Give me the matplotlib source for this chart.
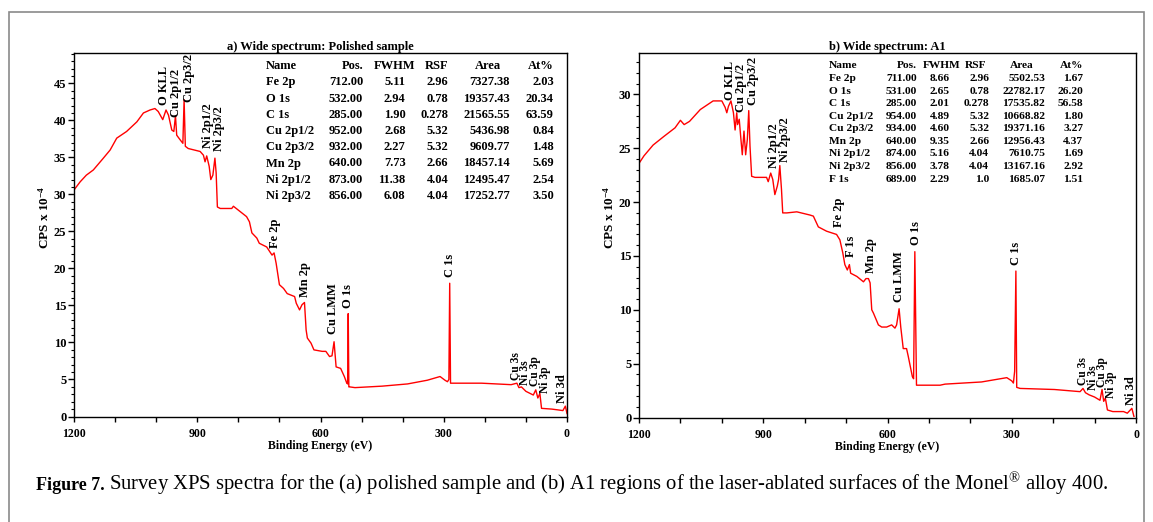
import matplotlib
matplotlib.use("Agg")
import matplotlib.pyplot as plt
from matplotlib.ticker import MultipleLocator
from matplotlib.patches import Rectangle

plt.rcParams["font.family"] = ["Liberation Serif", "DejaVu Serif"]
plt.rcParams["font.weight"] = "bold"
plt.rcParams["mathtext.fontset"] = "custom"
plt.rcParams["mathtext.rm"] = "Liberation Serif:weight=normal"
plt.rcParams["mathtext.bf"] = "Liberation Serif:weight=bold"
plt.rcParams["mathtext.default"] = "rm"

# ---- spectrum (a): polished sample ----
be_a = [1200, 1185, 1170, 1153, 1130, 1112, 1096, 1072, 1047, 1031, 1015, 1003,
        995, 984, 976, 970, 962, 957, 953, 950, 942, 935, 932, 929, 922, 893,
        885, 881, 877, 871, 867, 862, 857, 854, 851, 844, 816, 812, 796, 780,
        773, 767, 755, 749, 731, 718, 713, 708, 700, 690, 681, 663, 659, 651,
        645, 639, 635, 632, 623, 616, 596, 587, 578, 572, 567, 562, 551, 542,
        536, 534, 532.5, 531, 529, 516, 450, 388, 340, 309, 297, 291, 287.5,
        285.5, 283.5, 280, 208, 136, 122, 117, 111, 100, 82, 76, 71, 66, 62,
        37, 23, 10, 4, 0]
cps_a = [30.6, 31.7, 32.6, 33.3, 34.8, 36.0, 37.6, 38.5, 39.8, 41.0, 41.4, 41.6,
         41.2, 40.1, 41.4, 40.7, 38.7, 38.5, 40.6, 38.0, 37.4, 36.9, 42.8, 36.5,
         36.2, 35.8, 35.3, 34.4, 35.2, 33.8, 32.0, 32.6, 34.9, 32.9, 28.3, 28.1,
         28.1, 28.4, 27.7, 27.0, 26.3, 24.8, 24.1, 23.4, 22.9, 21.8, 22.1, 20.7,
         17.8, 17.3, 16.6, 16.2, 15.3, 14.4, 15.1, 15.4, 11.7, 10.6, 9.9, 9.0,
         8.8, 8.8, 8.1, 8.2, 10.1, 6.7, 6.5, 5.4, 4.5, 4.4, 13.9, 4.0, 4.0, 3.9,
         4.1, 4.4, 4.9, 5.4, 4.9, 4.7, 5.0, 18.0, 4.5, 4.5, 4.5, 4.3, 4.5, 3.9,
         4.0, 3.4, 2.9, 3.6, 2.5, 3.1, 1.1, 1.0, 0.9, 0.8, 1.4, 0.4]

# ---- spectrum (b): A1 region ----
be_b = [1200, 1188, 1166, 1140, 1113, 1100, 1091, 1078, 1052, 1021, 1000, 992,
        988, 984, 978, 972, 968, 964, 962, 958, 954.5, 950.6, 946.5, 942.5,
        938.5, 935, 932, 928, 920, 892, 888, 882, 877, 872, 866, 863, 860, 856,
        853, 843, 819, 787, 779, 767, 747, 723, 715, 708, 703, 697, 692, 689,
        674, 658, 652, 646, 642, 638, 634, 622, 614, 602, 590, 582, 578, 572,
        568, 562, 554, 550, 540, 537, 534, 530, 473, 461, 373, 312, 300, 296,
        293, 290, 288, 280, 197, 135, 128, 122, 113, 100, 87, 82, 78, 74, 69,
        56, 30, 21, 10, 5]
cps_b = [23.6, 24.3, 25.3, 26.1, 26.9, 27.6, 27.2, 27.5, 28.6, 29.4, 29.4, 28.8,
         28.3, 28.9, 29.4, 28.3, 26.7, 28.3, 27.2, 27.7, 26.1, 24.4, 26.6, 24.4,
         25.8, 28.5, 25.2, 22.4, 22.3, 22.3, 21.9, 22.7, 22.1, 20.7, 21.5, 22.1,
         23.4, 21.2, 19.0, 19.0, 19.1, 18.8, 18.7, 17.7, 17.3, 17.0, 16.5, 15.3,
         14.2, 13.7, 14.2, 13.4, 13.1, 12.6, 12.9, 12.9, 12.5, 10.0, 9.7, 8.6,
         8.4, 8.4, 8.6, 8.3, 8.6, 10.1, 8.4, 6.4, 6.4, 5.7, 3.8, 3.6, 15.4, 3.0,
         3.0, 3.1, 3.3, 3.7, 3.4, 3.2, 4.3, 13.6, 2.8, 2.7, 2.6, 2.4, 2.7, 2.3,
         2.1, 1.9, 1.6, 2.6, 1.5, 1.8, 0.7, 0.55, 0.55, 0.4, 0.85, 0.1]

# ---- peak annotations (name, BE, CPS of label foot) ----
peaks_a = ["O KLL", "Cu 2p1/2", "Cu 2p3/2", "Ni 2p1/2", "Ni 2p3/2", "Fe 2p",
           "Mn 2p", "Cu LMM", "O 1s", "C 1s", "Cu 3s", "Ni 3s", "Cu 3p",
           "Ni 3p", "Ni 3d"]
peak_be_a = [981, 952, 920, 874, 846, 711, 638, 569, 533, 285, 124, 102, 78, 54, 11]
peak_cps_a = [42.1, 40.5, 42.5, 36.3, 35.8, 22.8, 16.2, 11.1, 14.7, 18.9, 4.9,
              4.2, 4.1, 3.2, 1.85]

peaks_b = ["O KLL", "Cu 2p1/2", "Cu 2p3/2", "Ni 2p1/2", "Ni 2p3/2", "Fe 2p",
           "F 1s", "Mn 2p", "Cu LMM", "O 1s", "C 1s", "Cu 3s", "Ni 3s",
           "Cu 3p", "Ni 3p", "Ni 3d"]
peak_be_b = [980, 954, 924, 874, 848, 717, 688, 640, 572, 532, 289, 129, 103, 83, 61, 13]
peak_cps_b = [29.5, 28.4, 29.0, 23.2, 23.7, 17.7, 14.9, 13.4, 10.7, 16.0, 14.2,
              3.0, 2.6, 2.86, 1.8, 1.16]

# ---- quantification tables ----
tab_cols = ["Name", "Pos.", "FWHM", "RSF", "Area", "At%"]
tab_a_name = ["Fe 2p", "O 1s", "C 1s", "Cu 2p1/2", "Cu 2p3/2", "Mn 2p", "Ni 2p1/2", "Ni 2p3/2"]
tab_a_pos = ["712.00", "532.00", "285.00", "952.00", "932.00", "640.00", "873.00", "856.00"]
tab_a_fwhm = ["5.11", "2.94", "1.90", "2.68", "2.27", "7.73", "11.38", "6.08"]
tab_a_rsf = ["2.96", "0.78", "0.278", "5.32", "5.32", "2.66", "4.04", "4.04"]
tab_a_area = ["7327.38", "19357.43", "21565.55", "5436.98", "9609.77", "18457.14", "12495.47", "17252.77"]
tab_a_at = ["2.03", "20.34", "63.59", "0.84", "1.48", "5.69", "2.54", "3.50"]

tab_b_name = ["Fe 2p", "O 1s", "C 1s", "Cu 2p1/2", "Cu 2p3/2", "Mn 2p", "Ni 2p1/2", "Ni 2p3/2", "F 1s"]
tab_b_pos = ["711.00", "531.00", "285.00", "954.00", "934.00", "640.00", "874.00", "856.00", "689.00"]
tab_b_fwhm = ["8.66", "2.65", "2.01", "4.89", "4.60", "9.35", "5.16", "3.78", "2.29"]
tab_b_rsf = ["2.96", "0.78", "0.278", "5.32", "5.32", "2.66", "4.04", "4.04", "1.0"]
tab_b_area = ["5502.53", "22782.17", "17535.82", "10668.82", "19371.16", "12956.43", "7610.75", "13167.16", "1685.07"]
tab_b_at = ["1.67", "26.20", "56.58", "1.80", "3.27", "4.37", "1.69", "2.92", "1.51"]

# labels of the crowded low-energy peaks are set a little smaller
crowded = {"Cu 3s", "Ni 3s", "Cu 3p", "Ni 3p"}

W, H = 1153, 522
fig = plt.figure(figsize=(W / 100, H / 100), dpi=100)


def fx(px):
    return px / W


def fy(py):
    return 1 - py / H


# outer grey frame of the figure box
fig.patches.append(Rectangle((fx(9), fy(560)), fx(1144 - 9), (560 - 12) / H,
                             transform=fig.transFigure, fill=False,
                             edgecolor="#8a8a8a", linewidth=1.2))

ax_a = fig.add_axes([fx(74), fy(416.5), (567 - 74) / W, (416.5 - 53) / H])
ax_b = fig.add_axes([fx(639), fy(417.5), (1136 - 639) / W, (417.5 - 53) / H])

panels = [
    (ax_a, be_a, cps_a, 49.1, "a) Wide spectrum: Polished sample", peaks_a, peak_be_a, peak_cps_a),
    (ax_b, be_b, cps_b, 33.85, "b) Wide spectrum: A1", peaks_b, peak_be_b, peak_cps_b),
]

for ax, be, cps, ytop, title, pk, pk_be, pk_cps in panels:
    ax.plot(be, cps, color="red", linewidth=1.0)
    ax.set_xlim(1200, 0)
    ax.set_ylim(0, ytop)
    ax.xaxis.set_major_locator(MultipleLocator(300))
    ax.xaxis.set_minor_locator(MultipleLocator(100))
    ax.yaxis.set_major_locator(MultipleLocator(5))
    ax.yaxis.set_minor_locator(MultipleLocator(1))
    ax.tick_params(axis="x", which="both", direction="out", length=3.3, width=1, pad=5, labelsize=8.5)
    ax.tick_params(axis="y", which="major", direction="out", length=4.5, width=1, pad=1, labelsize=9)
    ax.tick_params(axis="y", which="minor", direction="out", length=2.5, width=0.8)
    for s in ax.spines.values():
        s.set_linewidth(1.0)
    ax.set_title(title, fontsize=9, fontweight="bold", pad=2.5)
    ax.set_xlabel("Binding Energy (eV)", fontsize=8.5, fontweight="bold")
    ax.set_ylabel("CPS x 10$^{\\mathbf{-4}}$", fontsize=9.5, fontweight="bold")
    for name, x, y in zip(pk, pk_be, pk_cps):
        ax.text(x, y, name, rotation=90, ha="center", va="bottom",
                fontsize=8.3 if name in crowded else 9, fontweight="bold")

ax_a.xaxis.set_label_coords(0.5, -0.066)
ax_b.xaxis.set_label_coords(0.5, -0.064)
ax_a.yaxis.set_label_coords(-0.045, 0.549)
ax_b.yaxis.set_label_coords(-0.045, 0.548)


def draw_table(name_x, head_right, val_right, y0, dy, fs, cols):
    for txt, xr in zip(tab_cols[1:], head_right):
        fig.text(fx(xr), fy(y0), txt, ha="right", va="center", fontsize=fs)
    fig.text(fx(name_x), fy(y0), tab_cols[0], ha="left", va="center", fontsize=fs)
    names = cols[0]
    for i, n in enumerate(names):
        y = y0 + dy * (i + 1)
        fig.text(fx(name_x), fy(y), n, ha="left", va="center", fontsize=fs)
        for col, xr in zip(cols[1:], val_right):
            fig.text(fx(xr), fy(y), col[i], ha="right", va="center", fontsize=fs)


draw_table(266, [363, 415.7, 448.3, 500.7, 554], [363, 405.7, 448.3, 510, 554],
           66, 16.25, 9,
           [tab_a_name, tab_a_pos, tab_a_fwhm, tab_a_rsf, tab_a_area, tab_a_at])
draw_table(829, [917, 960, 986, 1034, 1083], [917, 950, 989.3, 1045, 1083],
           66, 12.56, 8.2,
           [tab_b_name, tab_b_pos, tab_b_fwhm, tab_b_rsf, tab_b_area, tab_b_at])

# caption
cap1 = fig.text(fx(36), fy(490), "Figure 7.", fontsize=13, fontweight="bold", va="baseline")
fig.canvas.draw()
bb = cap1.get_window_extent()
fig.text((bb.x1 + 4) / W, fy(490),
         "Survey XPS spectra for the (a) polished sample and (b) A1 regions of the "
         "laser-ablated surfaces of the Monel$^{®}$ alloy 400.",
         fontsize=14.9, fontweight="normal", va="baseline")

fig.savefig("out.png", dpi=100)
